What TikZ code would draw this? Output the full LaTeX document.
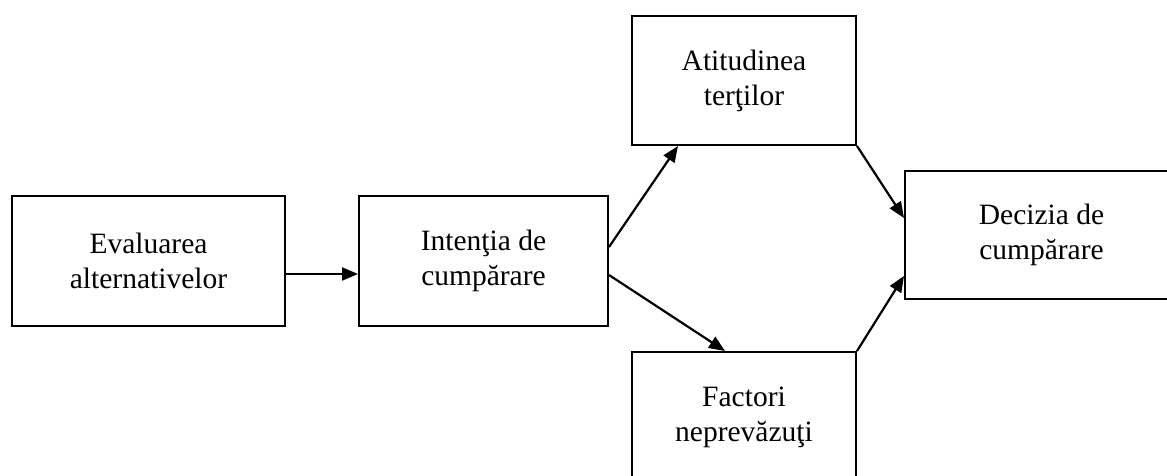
\documentclass[tikz,border=0pt]{standalone}
\usepackage{fontspec}
\setmainfont{Liberation Serif}
\usetikzlibrary{arrows.meta}
\begin{document}
\begin{tikzpicture}[x=1pt,y=-1pt,
  box/.style={draw,line width=2pt,inner sep=0pt,align=center,
    font=\fontsize{29.5}{35}\selectfont},
  arr/.style={line width=2.2pt,-{Triangle[length=16pt,width=13pt]}}]
\useasboundingbox (0,0) rectangle (1167,476);
\clip (0,0) rectangle (1167,476);
\node[box,minimum width=273pt,minimum height=130pt] (eval) at (148.5,261) {Evaluarea\\alternativelor};
\node[box,minimum width=249pt,minimum height=130pt] (int) at (483.5,261) {Intenţia de\\cumpărare};
\node[box,minimum width=224pt,minimum height=129pt] (att) at (744,80.5) {Atitudinea\\terţilor};
\node[box,minimum width=224pt,minimum height=131pt] (fac) at (744,417.5) {Factori\\neprevăzuţi};
\node[box,minimum width=273pt,minimum height=128pt] (dec) at (1041.5,235) {Decizia de\\cumpărare};
\draw[arr] ([yshift=-13pt]eval.east) -- ([yshift=-13pt]int.west);
\draw[arr] ([yshift=14pt]int.east) -- ([xshift=-66pt]att.south);
\draw[arr] ([yshift=-14pt]int.east) -- ([xshift=-19pt]fac.north);
\draw[arr] (att.south east) -- ([yshift=17pt]dec.west);
\draw[arr] (fac.north east) -- ([yshift=-41pt]dec.west);
\end{tikzpicture}
\end{document}
